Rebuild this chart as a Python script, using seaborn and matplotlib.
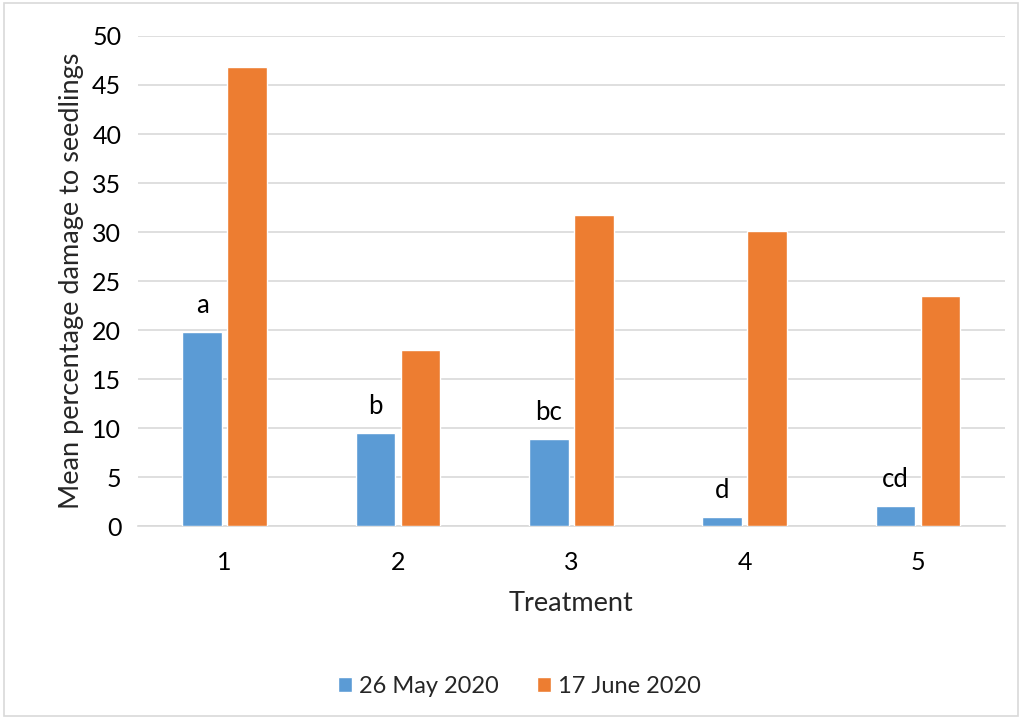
import pandas as pd
import matplotlib.pyplot as plt
import seaborn as sns
from matplotlib.patches import Rectangle

treatments = ["1", "2", "3", "4", "5"]
may_values = [19.8, 9.5, 8.9, 1.0, 2.1]
june_values = [46.8, 18.0, 31.7, 30.1, 23.5]
may_letters = ["a", "b", "bc", "d", "cd"]
series_names = ["26 May 2020", "17 June 2020"]
colors = ["#5b9bd5", "#ed7d31"]


def plot_all():
    df = pd.DataFrame({
        "Treatment": treatments * 2,
        "Damage": may_values + june_values,
        "Date": [series_names[0]] * len(treatments) + [series_names[1]] * len(treatments),
    })

    sns.set_style("white")
    plt.rcParams['font.family'] = ['Lato', 'DejaVu Sans']

    fig = plt.figure(figsize=(10.22, 7.19), dpi=100)
    ax = fig.add_axes([0.135, 0.268, 0.848, 0.682])
    sns.barplot(x="Treatment", y="Damage", hue="Date", data=df, ax=ax,
                palette=colors, width=0.52, gap=0.12, saturation=1, zorder=3)

    # letters above the first series
    for bar, letter in zip(ax.containers[0], may_letters):
        ax.annotate(letter, (bar.get_x() + bar.get_width() / 2, bar.get_height()),
                    xytext=(0, 10), textcoords="offset points",
                    ha="center", va="bottom", fontsize=18.5, color="#000000")

    ax.set_ylim(0, 50)
    ax.set_xlim(-0.5, 4.5)
    ax.set_yticks(range(0, 51, 5))
    ax.yaxis.grid(True, color="#d9d9d9", linewidth=1.2, zorder=0)
    ax.set_axisbelow(True)
    for s in ["top", "right", "left"]:
        ax.spines[s].set_visible(False)
    ax.spines["bottom"].set_color("#d9d9d9")
    ax.spines["bottom"].set_linewidth(1.2)
    ax.tick_params(axis="both", length=0, labelsize=18, colors="#000000")
    ax.tick_params(axis="x", pad=18)
    ax.tick_params(axis="y", pad=12)
    ax.set_xlabel("Treatment", fontsize=19.5, labelpad=12)
    ax.set_ylabel("Mean percentage damage to seedlings", fontsize=19.5, labelpad=6)

    ax.legend(loc="upper center", bbox_to_anchor=(0.44, -0.262), ncol=2, frameon=False,
              fontsize=17, handlelength=0.6, handleheight=0.6, handletextpad=0.3,
              columnspacing=1.6)

    fig.patches.append(Rectangle((0.004, 0.004), 0.992, 0.992, transform=fig.transFigure,
                                 fill=False, edgecolor="#d9d9d9", linewidth=1.2))
    plt.savefig("out.png", dpi=100)


if __name__ == "__main__":
    plot_all()
